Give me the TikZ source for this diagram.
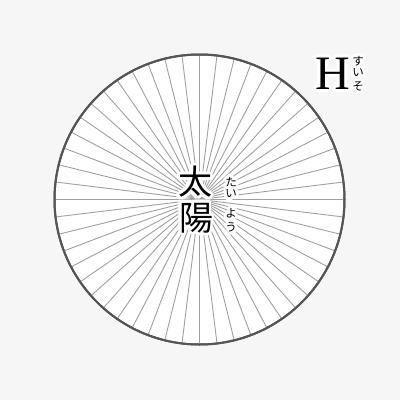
\documentclass[tikz,border=0pt]{standalone}
\usepackage{fontspec}
\newfontfamily\cjk{Noto Sans CJK JP}
\newfontfamily\hserif{Liberation Serif}
\usetikzlibrary{calc}
\definecolor{bgc}{RGB}{246,246,246}
\definecolor{rimc}{RGB}{85,85,85}
\definecolor{rayc}{RGB}{160,160,160}
\tikzset{
  glyph/.style={inner sep=0pt, anchor=center},
  bigk/.style={glyph, font=\cjk\fontsize{34}{34}\selectfont},
  ruby/.style={glyph, font=\cjk\fontsize{11.5}{12}\selectfont},
  hlet/.style={glyph, font=\hserif\fontsize{48}{48}\selectfont},
  ray/.style={draw=rayc, line width=0.9pt},
  rim/.style={draw=rimc, line width=2pt, fill=white}
}
\newcommand\halotext[4]{% name, style, position, text
  \foreach \a in {0,22.5,...,337.5}
    \node[#2, text=white] at ($(#3)+(\a:3)$) {#4};
  \node[#2] (#1) at (#3) {#4};
}
\begin{document}
\begin{tikzpicture}[x=1pt,y=-1pt]
\fill[bgc] (0,0) rectangle (400,400);
\useasboundingbox (0,0) rectangle (400,400);
\coordinate (c) at (199.5,199.5);
\node[rim, circle, minimum size=290pt, inner sep=0pt] (sun) at (c) {};
\foreach \i in {0,...,25}
  \draw[ray] ($(c)+(\i*360/52:144)$) -- ($(c)+(\i*360/52+180:144)$);
\draw[draw=rimc, line width=2pt] (c) circle (145);
% central text
\coordinate (pta) at (195,182);
\coordinate (pyo) at (196,218);
\coordinate (rta) at (231,182);
\coordinate (ri1) at (231,194);
\coordinate (ryo) at (231,213);
\coordinate (ru) at (231,227);
\halotext{kta}{bigk}{pta}{太}
\halotext{kyo}{bigk}{pyo}{陽}
\halotext{kr1}{ruby}{rta}{た}
\halotext{kr2}{ruby}{ri1}{い}
\halotext{kr3}{ruby}{ryo}{よ}
\halotext{kr4}{ruby}{ru}{う}
% H
\coordinate (ph) at (333,74);
\coordinate (hs) at (358,61);
\coordinate (hi) at (358,73);
\coordinate (hso) at (358,86);
\halotext{hh}{hlet}{ph}{H}
\halotext{hr1}{ruby}{hs}{す}
\halotext{hr2}{ruby}{hi}{い}
\halotext{hr3}{ruby}{hso}{そ}
\end{tikzpicture}
\end{document}
